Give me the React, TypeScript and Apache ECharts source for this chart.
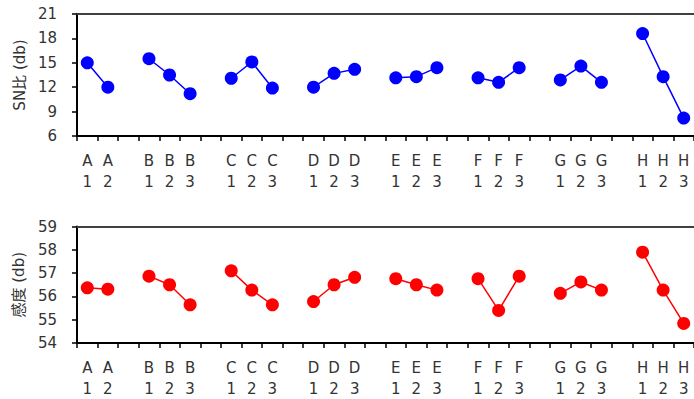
import React, { useEffect, useRef } from "react";
import * as echarts from "echarts";

const categories: string[] = [
  "A\n1", "A\n2", "",
  "B\n1", "B\n2", "B\n3", "",
  "C\n1", "C\n2", "C\n3", "",
  "D\n1", "D\n2", "D\n3", "",
  "E\n1", "E\n2", "E\n3", "",
  "F\n1", "F\n2", "F\n3", "",
  "G\n1", "G\n2", "G\n3", "",
  "H\n1", "H\n2", "H\n3",
];

const snValues: (number | null)[] = [
  15.0, 12.0, null,
  15.5, 13.5, 11.2, null,
  13.1, 15.1, 11.9, null,
  12.0, 13.7, 14.2, null,
  13.15, 13.3, 14.4, null,
  13.15, 12.6, 14.4, null,
  12.9, 14.6, 12.6, null,
  18.6, 13.3, 8.2,
];

const sensValues: (number | null)[] = [
  56.37, 56.31, null,
  56.87, 56.5, 55.64, null,
  57.1, 56.27, 55.64, null,
  55.78, 56.5, 56.82, null,
  56.76, 56.5, 56.27, null,
  56.76, 55.4, 56.87, null,
  56.13, 56.62, 56.27, null,
  57.9, 56.27, 54.84,
];

const snAxisName = "SN比 (db)";
const sensAxisName = "感度 (db)";

const FONT = "'DejaVu Sans', 'Noto Sans CJK JP', sans-serif";

export default function App() {
  const ref = useRef<HTMLDivElement>(null);
  useEffect(() => {
    if (!ref.current) return;
    const chart = echarts.init(ref.current, undefined, { renderer: "svg" });
    const xBottom = (gridIndex: number) => ({
      type: "category" as const,
      gridIndex,
      data: categories,
      boundaryGap: true,
      axisLine: { show: true, lineStyle: { color: "#000", width: 2 } },
      axisTick: { show: true, length: 5, inside: false, lineStyle: { color: "#000", width: 1.5 } },
      axisLabel: {
        show: true,
        interval: 0,
        fontSize: 15,
        lineHeight: 21,
        color: "#333",
        fontFamily: FONT,
        margin: 14,
      },
      splitLine: { show: false },
    });
    const xTop = (gridIndex: number) => ({
      type: "category" as const,
      gridIndex,
      position: "top" as const,
      data: categories,
      axisLine: { show: true, lineStyle: { color: "#404040", width: 2 } },
      axisTick: { show: false },
      axisLabel: { show: false },
      splitLine: { show: false },
    });
    const yAxis = (gridIndex: number, min: number, max: number, interval: number, name: string, nameGap: number) => ({
      type: "value" as const,
      gridIndex,
      min,
      max,
      interval,
      name,
      nameLocation: "middle" as const,
      nameGap,
      nameRotate: 90,
      nameTextStyle: { fontSize: 15, color: "#333", fontFamily: FONT },
      axisLine: { show: true, lineStyle: { color: "#000", width: 2 } },
      axisTick: { show: true, length: 5, inside: false, lineStyle: { color: "#000", width: 1.5 } },
      axisLabel: { fontSize: 15, color: "#333", fontFamily: FONT, margin: 20 },
      splitLine: { show: false },
    });
    chart.setOption({
      animation: false,
      backgroundColor: "#fff",
      grid: [
        { left: 77, right: -4, top: 14, height: 122 },
        { left: 77, right: -4, top: 226.5, height: 119 },
      ],
      xAxis: [xBottom(0), xBottom(1), xTop(0), xTop(1)],
      yAxis: [
        yAxis(0, 6, 21, 3, snAxisName, 50),
        yAxis(1, 54, 59, 1, sensAxisName, 51),
      ],
      series: [
        {
          type: "line",
          xAxisIndex: 0,
          yAxisIndex: 0,
          data: snValues,
          connectNulls: false,
          symbol: "circle",
          symbolSize: 13,
          itemStyle: { color: "#0000ff" },
          lineStyle: { color: "#0000ff", width: 1.5 },
        },
        {
          type: "line",
          xAxisIndex: 1,
          yAxisIndex: 1,
          data: sensValues,
          connectNulls: false,
          symbol: "circle",
          symbolSize: 13,
          itemStyle: { color: "#ff0000" },
          lineStyle: { color: "#ff0000", width: 1.5 },
        },
      ],
    });
    return () => chart.dispose();
  }, []);
  return (
    <div
      ref={ref}
      style={{ position: "fixed", left: 0, top: 0, width: 694, height: 399, background: "#fff" }}
    />
  );
}
